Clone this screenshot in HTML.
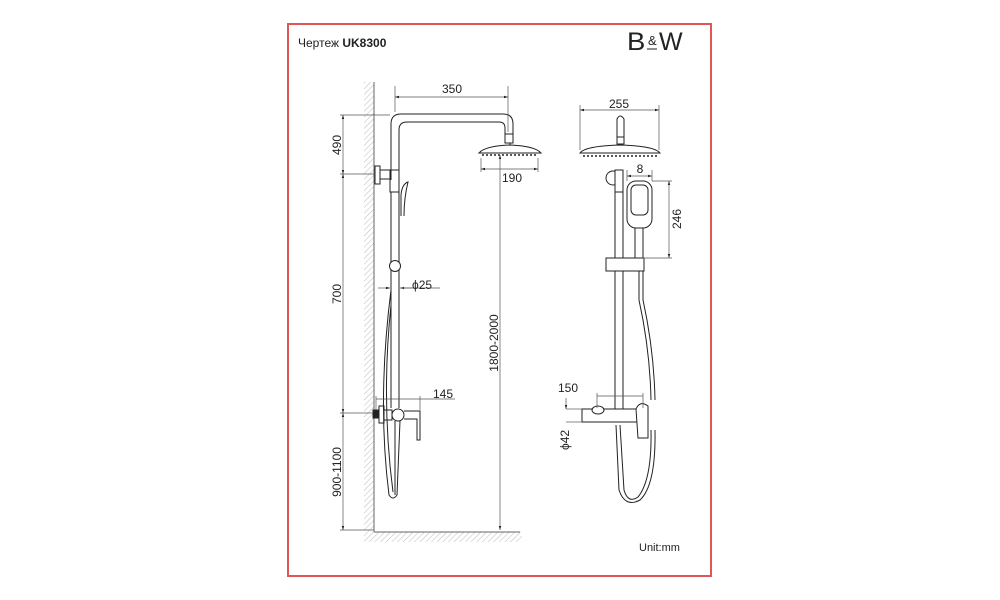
<!DOCTYPE html>
<html><head><meta charset="utf-8"><style>
html,body{margin:0;padding:0;background:#fff;}
svg{display:block;}
text{font-family:"Liberation Sans",sans-serif;fill:#222;}
</style></head><body>
<svg width="1000" height="600" viewBox="0 0 1000 600" xmlns="http://www.w3.org/2000/svg">
<defs>
<pattern id="h" width="4" height="4" patternUnits="userSpaceOnUse" patternTransform="rotate(45)">
<line x1="0" y1="0" x2="0" y2="4" stroke="#aaa" stroke-width="0.8"/>
</pattern>
<marker id="a" viewBox="0 0 10 10" refX="10" refY="5" markerWidth="6" markerHeight="6" orient="auto-start-reverse"><path d="M0,2 L10,5 L0,8z" fill="#222"/></marker>
</defs>
<rect x="288" y="24" width="423" height="552" fill="#fff" stroke="#e05555" stroke-width="2"/>
<text x="298" y="47" font-size="12">Чертеж <tspan font-weight="bold">UK8300</tspan></text>
<text x="627" y="50" font-size="25" fill="#444" transform="translate(627,50) scale(1.1,1) translate(-627,-50)">B</text>
<text x="648" y="45" font-size="13" fill="#444">&amp;</text>
<line x1="647" y1="49" x2="657" y2="49" stroke="#444" stroke-width="1.2"/>
<text x="659" y="50" font-size="25" fill="#444">W</text>
<text x="639" y="551" font-size="11">Unit:mm</text>

<!-- wall & floor -->
<rect x="364" y="82" width="10" height="450" fill="url(#h)"/>
<line x1="374" y1="82" x2="374" y2="532" stroke="#666" stroke-width="1"/>
<rect x="364" y="532" width="158" height="10" fill="url(#h)"/>
<line x1="374" y1="532" x2="520" y2="532" stroke="#666" stroke-width="1"/>

<g fill="none" stroke="#222" stroke-width="1">
<path d="M391,180 L391,124 Q391,114 401,114 L503,114 Q513,114 513,124 L513,134"/>
<path d="M399,170 L399,130 Q399,122 407,122 L499,122 Q505,122 505,128 L505,134"/>
<rect x="505" y="134" width="8" height="9"/>
<path d="M479,153 Q485,146 510,145 Q535,146 541,153 Z"/>
<line x1="510" y1="143" x2="510" y2="145"/>
<line x1="482" y1="155" x2="538" y2="155" stroke-dasharray="2,2" stroke-width="1.5"/>
<rect x="375" y="166" width="5" height="18"/>
<rect x="380" y="170" width="10" height="9"/>
<rect x="390" y="170" width="9" height="22"/>
<path d="M391,192 L391,408 M399,192 L399,408"/>
<path d="M401,216 L401,195 Q402,184 408,182 Q404,198 404,216"/>
<circle cx="395" cy="266" r="5.5" fill="#fff"/>
<!-- hose / hand shower hanging -->
<path d="M391,290 Q377,400 389,495 Q393,501 397,495 L400,421"/>
<path d="M391,305 Q381,400 393,492"/>
<path d="M395,421 L395,495"/>
<!-- mixer -->
<rect x="373" y="410" width="6" height="8" fill="#222"/>
<rect x="379" y="406" width="5" height="17"/>
<rect x="384" y="410" width="8" height="10"/>
<circle cx="398" cy="415" r="6" fill="#fff"/>
<path d="M404,411 L420,411 L420,440 L417,440 L417,419 L404,419"/>
</g>
<g stroke="#555" stroke-width="0.7" fill="none">
<line x1="395" y1="86" x2="395" y2="112"/><line x1="508" y1="86" x2="508" y2="132"/>
<line x1="395" y1="97" x2="508" y2="97" marker-start="url(#a)" marker-end="url(#a)"/>
<line x1="481" y1="158" x2="481" y2="172"/><line x1="538" y1="158" x2="538" y2="172"/>
<line x1="481" y1="169" x2="538" y2="169" marker-start="url(#a)" marker-end="url(#a)"/>
<line x1="340" y1="115" x2="390" y2="115"/><line x1="340" y1="174" x2="375" y2="174"/>
<line x1="340" y1="413" x2="373" y2="413"/><line x1="340" y1="530" x2="374" y2="530"/>
<line x1="343" y1="115" x2="343" y2="174" marker-start="url(#a)" marker-end="url(#a)"/>
<line x1="343" y1="174" x2="343" y2="413" marker-start="url(#a)" marker-end="url(#a)"/>
<line x1="343" y1="413" x2="343" y2="530" marker-start="url(#a)" marker-end="url(#a)"/>
<line x1="500" y1="155" x2="500" y2="530" marker-start="url(#a)" marker-end="url(#a)"/>
<line x1="378" y1="288" x2="390" y2="288" marker-end="url(#a)"/>
<line x1="412" y1="288" x2="400" y2="288" marker-end="url(#a)"/>
<line x1="400" y1="288" x2="440" y2="288"/>
<line x1="376" y1="399" x2="455" y2="399"/>
<line x1="376" y1="396" x2="376" y2="410"/><line x1="420" y1="396" x2="420" y2="410"/>
</g>
<g font-size="12">
<text x="452" y="93" text-anchor="middle">350</text>
<text x="512" y="182" text-anchor="middle">190</text>
<text x="443" y="398" text-anchor="middle">145</text>
<text x="412" y="289">ϕ25</text>
<text transform="translate(341,145) rotate(-90)" text-anchor="middle">490</text>
<text transform="translate(341,294) rotate(-90)" text-anchor="middle">700</text>
<text transform="translate(341,472) rotate(-90)" text-anchor="middle">900-1100</text>
<text transform="translate(498,343) rotate(-90)" text-anchor="middle">1800-2000</text>
</g>

<g fill="none" stroke="#222" stroke-width="1">
<path d="M617,137 L617,119 Q620,113 624,119 L624,137"/>
<rect x="617" y="137" width="7" height="7"/>
<path d="M580,153 Q585,146 620,145 Q655,146 660,153 Z"/>
<line x1="583" y1="156" x2="657" y2="156" stroke-dasharray="2,2" stroke-width="1.5"/>
<circle cx="613" cy="178" r="7"/>
<rect x="615" y="170" width="8" height="22" fill="#fff"/>
<line x1="615" y1="192" x2="615" y2="409"/><line x1="623" y1="192" x2="623" y2="409"/>
<rect x="627" y="181" width="25" height="47" rx="9"/>
<rect x="631" y="185" width="17" height="30" rx="5"/>
<path d="M635,228 L635,258 M643,228 L643,258"/>
<rect x="606" y="258" width="38" height="13" fill="#fff"/>
<path d="M639,271 L639,300 Q650,350 651,400 M643,271 L643,300 Q654,350 655,400"/>
<path d="M651,430 Q652,480 638,497 Q628,504 624,490 L620,425"/>
<path d="M655,430 Q656,485 640,500 Q625,508 619,490 L616,425"/>
<rect x="582" y="409" width="62" height="13" fill="#fff"/>
<ellipse cx="598" cy="410" rx="6" ry="4" fill="#fff"/>
<path d="M636,409 Q640,400 648,406 L648,438 L638,438 Z" fill="#fff"/>
</g>
<g stroke="#555" stroke-width="0.7" fill="none">
<line x1="580" y1="105" x2="580" y2="150"/><line x1="659" y1="105" x2="659" y2="150"/>
<line x1="580" y1="110" x2="659" y2="110" marker-start="url(#a)" marker-end="url(#a)"/>
<line x1="627" y1="170" x2="627" y2="181"/><line x1="652" y1="170" x2="652" y2="181"/>
<line x1="627" y1="176" x2="652" y2="176" marker-start="url(#a)" marker-end="url(#a)"/>
<line x1="652" y1="181" x2="672" y2="181"/><line x1="643" y1="258" x2="672" y2="258"/>
<line x1="669" y1="181" x2="669" y2="258" marker-start="url(#a)" marker-end="url(#a)"/>
<line x1="597" y1="396" x2="643" y2="396"/><line x1="597" y1="393" x2="597" y2="408"/><line x1="643" y1="393" x2="643" y2="408"/>
<line x1="566" y1="409" x2="582" y2="409"/><line x1="566" y1="422" x2="582" y2="422"/>
<line x1="566" y1="398" x2="566" y2="409" marker-end="url(#a)"/>
</g>
<g font-size="12">
<text x="619" y="108" text-anchor="middle">255</text>
<text x="640" y="173" text-anchor="middle">8</text>
<text x="568" y="392" text-anchor="middle">150</text>
<text transform="translate(681,219) rotate(-90)" text-anchor="middle">246</text>
<text transform="translate(569,440) rotate(-90)" text-anchor="middle">ϕ42</text>
</g>
</svg>
</body></html>
